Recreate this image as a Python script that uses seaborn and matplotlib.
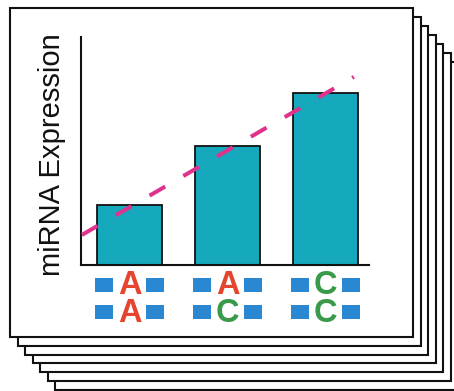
import matplotlib
matplotlib.use("Agg")
import matplotlib.pyplot as plt
from matplotlib.patches import Rectangle
import seaborn as sns
import numpy as np

# ---- data ----
genotypes = ["AA", "AC", "CC"]
allele_top = ["A", "A", "C"]
allele_bottom = ["A", "C", "C"]
expression = [2.65, 5.2, 7.55]
trend_x = [-0.485, 2.29]
trend_y = [1.32, 8.25]

# ---- style ----
sns.set_style("white")
plt.rcParams["font.family"] = ["Liberation Sans", "DejaVu Sans"]

BAR = "#16A9BD"
PINK = "#DE328C"
RED = "#E5452F"
GREEN = "#3A9A4B"
BLUE = "#2A87D2"
letter_color = {"A": RED, "C": GREEN}

W, H = 454, 391
fig = plt.figure(figsize=(W / 100, H / 100), dpi=100)
fig.patch.set_facecolor("white")

# stacked pages (back to front)
for i in reversed(range(7)):
    left = 10 + 7.5 * i
    top = 8.3 + 8.9 * i
    pw, ph = 403.3, 328.4
    rect = Rectangle((left / W, 1 - (top + ph) / H), pw / W, ph / H,
                     transform=fig.transFigure, facecolor="white",
                     edgecolor="#111111", linewidth=1.5, zorder=-10 + (6 - i) * 0.1)
    fig.patches.append(rect)

ax = fig.add_axes([81 / W, 1 - 265 / H, 288 / W, 228 / H])
ax.set_zorder(5)
ax.patch.set_alpha(0)

sns.barplot(x=genotypes, y=expression, color=BAR, saturation=1,
            edgecolor="#111111", linewidth=1.3, width=0.663, ax=ax)

ax.plot(trend_x, trend_y, color=PINK, linewidth=2.9, dashes=(4.5, 5.2),
        dash_capstyle="butt", clip_on=False, zorder=6)

ax.set_xlim(-0.495, 2.444)
ax.set_ylim(0, 10)
ax.set_xticks([])
ax.set_yticks([])
ax.set_xlabel("")
for s in ["top", "right"]:
    ax.spines[s].set_visible(False)
for s in ["left", "bottom"]:
    ax.spines[s].set_linewidth(1.5)
    ax.spines[s].set_color("#111111")

ax.set_ylabel("miRNA Expression", fontsize=21, color="#111111")
ax.yaxis.label.set_va("baseline")
ax.yaxis.set_label_coords(-0.0729, 0.482)

# genotype labels
trans = ax.get_xaxis_transform()
rect_marker = [(-1.33, -1), (1.33, -1), (1.33, 1), (-1.33, 1), (-1.33, -1)]
rows = [(allele_top, -0.0877, -0.1250), (allele_bottom, -0.2061, -0.2520)]
for alleles, ysq, ybase in rows:
    for i, a in enumerate(alleles):
        ax.text(i, ybase, a, transform=trans, ha="center", va="baseline",
                fontsize=23.5, fontweight="bold", color=letter_color[a],
                clip_on=False)
        ax.plot([i - 0.258, i + 0.258], [ysq, ysq], linestyle="none",
                marker=rect_marker, markersize=13, color=BLUE,
                markeredgewidth=0, transform=trans, clip_on=False)

fig.savefig("out.png", dpi=100)
